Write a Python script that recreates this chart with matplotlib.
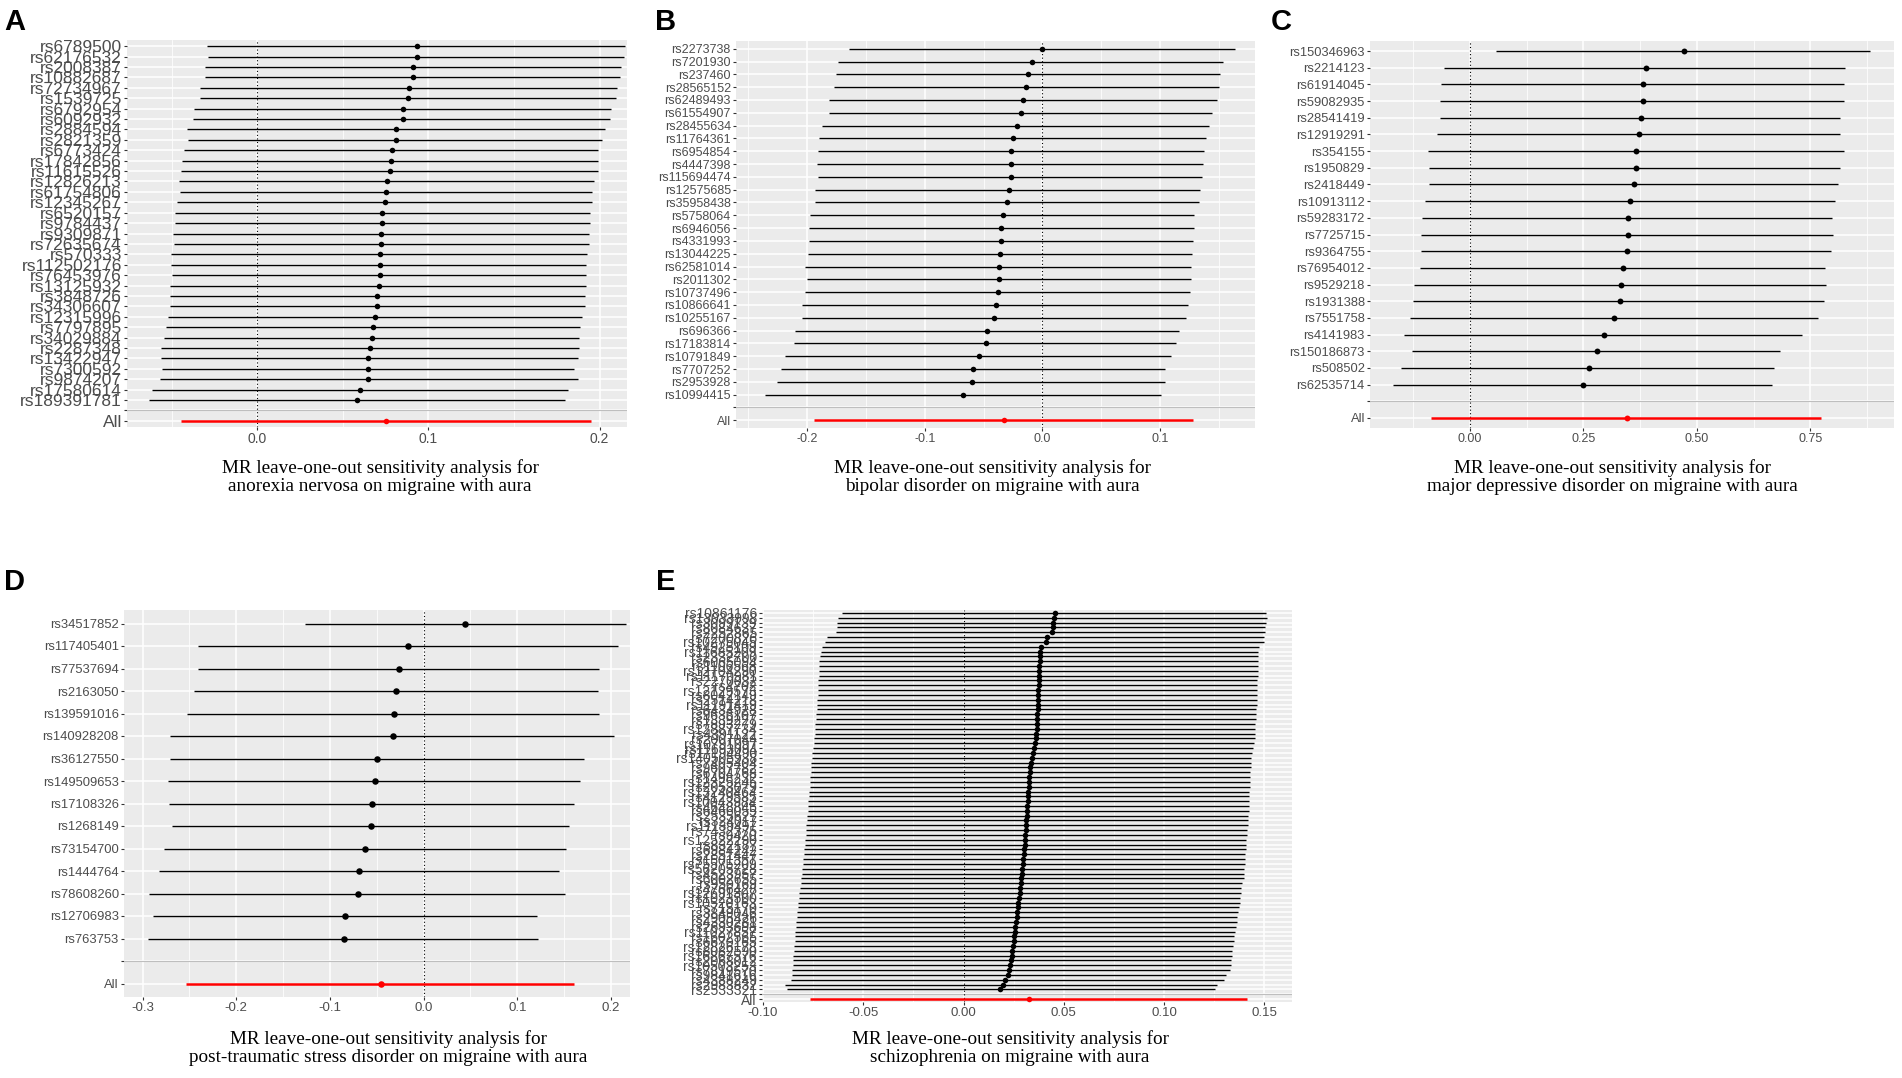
import matplotlib
matplotlib.use('Agg')
from matplotlib import pyplot as plt
import numpy as np

plt.rcParams['font.family'] = ['Liberation Sans', 'DejaVu Sans']

W, H = 1902, 1078

# ---- A: anorexia nervosa
a_snps = ["rs6789500", "rs62176532", "rs2008387", "rs10882687", "rs72734967", "rs1539725",
          "rs6792954", "rs6092932", "rs2884594", "rs2821359", "rs6773424", "rs17842856",
          "rs11615526", "rs12826213", "rs61754806", "rs12345267", "rs6520157", "rs9784437",
          "rs9309871", "rs72635674", "rs570333", "rs112502176", "rs76453976", "rs13125932",
          "rs3848726", "rs34306607", "rs12315996", "rs7797895", "rs34029884", "rs2287348",
          "rs13422947", "rs7300592", "rs9874207", "rs17580614", "rs189391781"]
a_b = [0.0932, 0.0932, 0.0913, 0.0913, 0.0889, 0.0883, 0.0849, 0.0849, 0.0812, 0.0812,
       0.0786, 0.0781, 0.0773, 0.0757, 0.0751, 0.0744, 0.0732, 0.0732, 0.0724, 0.0724,
       0.0717, 0.0717, 0.0717, 0.0709, 0.0701, 0.0701, 0.0689, 0.0676, 0.0670, 0.0660,
       0.0650, 0.0650, 0.0650, 0.0602, 0.0583]
a_lo = [-0.0291, -0.0285, -0.0307, -0.0307, -0.0334, -0.0334, -0.0369, -0.0375, -0.0412, -0.0404,
        -0.0425, -0.0437, -0.0447, -0.0458, -0.0452, -0.0466, -0.0480, -0.0480, -0.0493, -0.0487,
        -0.0501, -0.0501, -0.0495, -0.0507, -0.0507, -0.0507, -0.0520, -0.0534, -0.0542, -0.0561,
        -0.0561, -0.0557, -0.0569, -0.0612, -0.0631]
a_hi = [0.2150, 0.2140, 0.2126, 0.2120, 0.2101, 0.2093, 0.2064, 0.2058, 0.2029, 0.2016,
        0.1990, 0.1990, 0.1990, 0.1967, 0.1955, 0.1955, 0.1942, 0.1942, 0.1936, 0.1936,
        0.1928, 0.1922, 0.1922, 0.1918, 0.1913, 0.1913, 0.1899, 0.1887, 0.1878, 0.1878,
        0.1874, 0.1850, 0.1874, 0.1816, 0.1796]
a_all = (0.0751, -0.0445, 0.1948)

# ---- B: bipolar disorder
b_snps = ["rs2273738", "rs7201930", "rs237460", "rs28565152", "rs62489493", "rs61554907",
          "rs28455634", "rs11764361", "rs6954854", "rs4447398", "rs115694474", "rs12575685",
          "rs35958438", "rs5758064", "rs6946056", "rs4331993", "rs13044225", "rs62581014",
          "rs2011302", "rs10737496", "rs10866641", "rs10255167", "rs696366", "rs17183814",
          "rs10791849", "rs7707252", "rs2953928", "rs10994415"]
b_b = [0.0, -0.0087, -0.0119, -0.0138, -0.0167, -0.0179, -0.0218, -0.0250, -0.0269, -0.0269,
       -0.0269, -0.0288, -0.0298, -0.0337, -0.0349, -0.0349, -0.0359, -0.0369, -0.0369, -0.0381,
       -0.0397, -0.0410, -0.0471, -0.0478, -0.0542, -0.0587, -0.0599, -0.0679]
b_lo = [-0.1644, -0.1737, -0.1753, -0.1776, -0.1817, -0.1817, -0.1878, -0.1897, -0.1907, -0.1917,
        -0.1907, -0.1936, -0.1936, -0.1978, -0.1987, -0.1987, -0.1997, -0.2016, -0.2006, -0.2016,
        -0.2045, -0.2045, -0.2106, -0.2115, -0.2186, -0.2224, -0.2256, -0.2356]
b_hi = [0.1641, 0.1538, 0.1506, 0.1497, 0.1481, 0.1442, 0.1420, 0.1391, 0.1372, 0.1362,
        0.1353, 0.1343, 0.1330, 0.1292, 0.1292, 0.1282, 0.1272, 0.1263, 0.1263, 0.1253,
        0.1240, 0.1221, 0.1160, 0.1138, 0.1093, 0.1042, 0.1042, 0.1006]
b_all = (-0.0330, -0.1946, 0.1282)

# ---- C: major depressive disorder
c_snps = ["rs150346963", "rs2214123", "rs61914045", "rs59082935", "rs28541419", "rs12919291",
          "rs354155", "rs1950829", "rs2418449", "rs10913112", "rs59283172", "rs7725715",
          "rs9364755", "rs76954012", "rs9529218", "rs1931388", "rs7551758", "rs4141983",
          "rs150186873", "rs508502", "rs62535714"]
c_b = [0.4712, 0.3872, 0.3820, 0.3820, 0.3767, 0.3715, 0.3663, 0.3663, 0.3610, 0.3531,
       0.3479, 0.3479, 0.3453, 0.3374, 0.3322, 0.3295, 0.3164, 0.2955, 0.2797, 0.2614, 0.2483]
c_lo = [0.0568, -0.0568, -0.0629, -0.0656, -0.0656, -0.0726, -0.0918, -0.0892, -0.0892, -0.0979,
        -0.1049, -0.1075, -0.1075, -0.1101, -0.1224, -0.1259, -0.1329, -0.1442, -0.1285, -0.1521,
        -0.1696]
c_hi = [0.8811, 0.8269, 0.8234, 0.8234, 0.8156, 0.8156, 0.8234, 0.8156, 0.8103, 0.8042,
        0.7972, 0.8007, 0.7946, 0.7823, 0.7850, 0.7806, 0.7657, 0.7308, 0.6836, 0.6687, 0.6661]
c_all = (0.3453, -0.0848, 0.7727)

# ---- D: post-traumatic stress disorder
d_snps = ["rs34517852", "rs117405401", "rs77537694", "rs2163050", "rs139591016", "rs140928208",
          "rs36127550", "rs149509653", "rs17108326", "rs1268149", "rs73154700", "rs1444764",
          "rs78608260", "rs12706983", "rs763753"]
d_b = [0.0445, -0.0166, -0.0266, -0.0292, -0.0318, -0.0331, -0.0497, -0.0523, -0.0549, -0.0562,
       -0.0623, -0.0689, -0.0702, -0.0841, -0.0854]
d_lo = [-0.1264, -0.2411, -0.2411, -0.2450, -0.2524, -0.2703, -0.2703, -0.2729, -0.2716, -0.2690,
        -0.2768, -0.2829, -0.2929, -0.2890, -0.2943]
d_hi = [0.2158, 0.2071, 0.1874, 0.1861, 0.1874, 0.2027, 0.1709, 0.1670, 0.1609, 0.1556,
        0.1517, 0.1443, 0.1504, 0.1212, 0.1225]
d_all = (-0.0458, -0.2537, 0.1609)

# ---- E: schizophrenia (labels overlap in the source, names are best guesses)
e_snps = ["rs10861176", "rs13033998", "rs3099139", "rs8084637", "rs2252865", "rs7200826",
          "rs10275045", "rs4925109", "rs11685209", "rs2332700", "rs6065094", "rs1106568",
          "rs12704290", "rs11170981", "rs2270032", "rs4702", "rs12129573", "rs8042149",
          "rs2514218", "rs11191419", "rs6434928", "rs9636107", "rs1339227", "rs7893279",
          "rs12887734", "rs4391122", "rs2007044", "rs10791097", "rs11693094", "rs17194490",
          "rs140505938", "rs7405404", "rs9607782", "rs6704768", "rs1498232", "rs12325245",
          "rs2053079", "rs13240464", "rs4129585", "rs10043984", "rs4648845", "rs6466055",
          "rs2535627", "rs324017", "rs11139497", "rs7432375", "rs9420", "rs12522290",
          "rs832187", "rs6984242", "rs2851447", "rs1501357", "rs75575209", "rs56205728",
          "rs4523957", "rs6002655", "rs950169", "rs4766428", "rs12691307", "rs1023500",
          "rs10520163", "rs715170", "rs3849046", "rs2905426", "rs4330281", "rs2693698",
          "rs11027857", "rs1602565", "rs6670165", "rs12826178", "rs8082590", "rs16867576",
          "rs2068012", "rs10503253", "rs7819570", "rs9841616", "rs4388249", "rs2983832",
          "rs2533321"]
e_b = [0.0458, 0.0452, 0.0448, 0.0445, 0.0440, 0.0415, 0.0412, 0.0385, 0.0382, 0.0380,
       0.0379, 0.0378, 0.0377, 0.0376, 0.0375, 0.0374, 0.0373, 0.0372, 0.0371, 0.0370,
       0.0369, 0.0368, 0.0367, 0.0366, 0.0364, 0.0362, 0.0360, 0.0356, 0.0350, 0.0344,
       0.0340, 0.0336, 0.0333, 0.0330, 0.0328, 0.0326, 0.0324, 0.0322, 0.0320, 0.0319,
       0.0318, 0.0316, 0.0315, 0.0314, 0.0313, 0.0311, 0.0309, 0.0307, 0.0305, 0.0302,
       0.0300, 0.0298, 0.0296, 0.0294, 0.0291, 0.0288, 0.0285, 0.0282, 0.0280, 0.0277,
       0.0274, 0.0271, 0.0268, 0.0265, 0.0262, 0.0259, 0.0256, 0.0253, 0.0250, 0.0247,
       0.0244, 0.0241, 0.0238, 0.0234, 0.0228, 0.0220, 0.0208, 0.0195, 0.0183]
e_lo = [-0.0608, -0.0627, -0.0632, -0.0632, -0.0635, -0.0679, -0.0690, -0.0704, -0.0712, -0.0718,
        -0.0720, -0.0721, -0.0722, -0.0723, -0.0724, -0.0725, -0.0726, -0.0727, -0.0729, -0.0731,
        -0.0733, -0.0735, -0.0737, -0.0739, -0.0741, -0.0743, -0.0746, -0.0748, -0.0751, -0.0754,
        -0.0757, -0.0759, -0.0761, -0.0763, -0.0765, -0.0767, -0.0768, -0.0770, -0.0772, -0.0774,
        -0.0776, -0.0778, -0.0780, -0.0782, -0.0784, -0.0786, -0.0788, -0.0790, -0.0793, -0.0796,
        -0.0798, -0.0801, -0.0803, -0.0806, -0.0808, -0.0811, -0.0813, -0.0815, -0.0818, -0.0821,
        -0.0823, -0.0826, -0.0829, -0.0832, -0.0834, -0.0836, -0.0838, -0.0840, -0.0842, -0.0844,
        -0.0846, -0.0848, -0.0850, -0.0852, -0.0854, -0.0856, -0.0860, -0.0889, -0.0880]
e_hi = [0.1508, 0.1515, 0.1508, 0.1505, 0.1502, 0.1500, 0.1498, 0.1475, 0.1470, 0.1469,
        0.1468, 0.1467, 0.1466, 0.1466, 0.1465, 0.1465, 0.1464, 0.1463, 0.1462, 0.1462,
        0.1460, 0.1458, 0.1457, 0.1455, 0.1454, 0.1452, 0.1451, 0.1450, 0.1445, 0.1440,
        0.1436, 0.1434, 0.1432, 0.1430, 0.1429, 0.1428, 0.1427, 0.1426, 0.1425, 0.1424,
        0.1423, 0.1422, 0.1421, 0.1420, 0.1420, 0.1415, 0.1413, 0.1411, 0.1409, 0.1407,
        0.1405, 0.1403, 0.1402, 0.1401, 0.1400, 0.1398, 0.1388, 0.1385, 0.1382, 0.1380,
        0.1377, 0.1375, 0.1370, 0.1366, 0.1362, 0.1358, 0.1354, 0.1350, 0.1347, 0.1345,
        0.1340, 0.1337, 0.1335, 0.1332, 0.1330, 0.1310, 0.1300, 0.1265, 0.1255]
e_all = (0.0325, -0.0768, 0.1412)

caption_head = "MR leave-one-out sensitivity analysis for"
a_caption = "anorexia nervosa on migraine with aura"
b_caption = "bipolar disorder on migraine with aura"
c_caption = "major depressive disorder on migraine with aura"
d_caption = "post-traumatic stress disorder on migraine with aura"
e_caption = "schizophrenia on migraine with aura"


def px_axes(fig, x0, y0, x1, y1):
    return fig.add_axes([x0 / W, 1 - y1 / H, (x1 - x0) / W, (y1 - y0) / H])


def forest(ax, snps, b, lo, hi, overall, xlim, xticks, xlabels, dot=16, ysize=9, xsize=9):
    n = len(snps)
    ypos = np.arange(n + 1, 1, -1)
    ax.set_facecolor('#EBEBEB')
    for s in ax.spines.values():
        s.set_visible(False)
    ax.set_axisbelow(True)

    ax.set_xlim(*xlim)
    ax.set_ylim(-0.6, n + 1.6)
    ax.set_xticks(xticks)
    ax.set_xticklabels(xlabels)
    step = xticks[1] - xticks[0]
    minor = np.arange(xticks[0] - step / 2, xticks[-1] + step, step)
    ax.set_xticks(minor[(minor > xlim[0]) & (minor < xlim[1])], minor=True)
    ax.set_yticks([0, 1] + list(ypos))
    ax.set_yticklabels(['All', ''] + list(snps))
    ax.grid(which='major', color='white', lw=1.1)
    ax.grid(which='minor', axis='x', color='white', lw=0.55)
    ax.tick_params(which='major', length=2.2, width=0.8, color='#333333',
                   labelcolor='#4D4D4D', pad=1.5)
    ax.tick_params(axis='y', labelsize=ysize)
    ax.tick_params(axis='x', labelsize=xsize)
    ax.tick_params(which='minor', length=0)

    ax.axhline(1, color='#BEBEBE', lw=0.8, zorder=1)
    ax.axvline(0, color='black', ls=(0, (1, 2.2)), lw=0.8, zorder=2)
    ax.hlines(ypos, lo, hi, color='black', lw=1.0, zorder=3)
    ax.scatter(b, ypos, s=dot, color='black', zorder=4, linewidths=0)
    ax.hlines(0, overall[1], overall[2], color='red', lw=1.8, zorder=3)
    ax.scatter([overall[0]], [0], s=dot, color='red', zorder=4, linewidths=0)


fig = plt.figure(figsize=(W / 100, H / 100), dpi=100)

ax = px_axes(fig, 127, 40, 627, 427)
forest(ax, a_snps, a_b, a_lo, a_hi, a_all, (-0.076, 0.216),
       [0.0, 0.1, 0.2], ['0.0', '0.1', '0.2'], dot=16, ysize=12.5, xsize=10)

ax = px_axes(fig, 736, 41, 1255, 428)
forest(ax, b_snps, b_b, b_lo, b_hi, b_all, (-0.2606, 0.1807),
       [-0.2, -0.1, 0.0, 0.1], ['-0.2', '-0.1', '0.0', '0.1'], dot=16)

ax = px_axes(fig, 1370, 41, 1894, 428)
forest(ax, c_snps, c_b, c_lo, c_hi, c_all, (-0.220, 0.934),
       [0.0, 0.25, 0.5, 0.75], ['0.00', '0.25', '0.50', '0.75'], dot=18, ysize=9.3)

ax = px_axes(fig, 124, 610, 630, 997)
forest(ax, d_snps, d_b, d_lo, d_hi, d_all, (-0.3198, 0.2203),
       [-0.3, -0.2, -0.1, 0.0, 0.1, 0.2], ['-0.3', '-0.2', '-0.1', '0.0', '0.1', '0.2'],
       dot=22, ysize=9.4, xsize=9.5)

ax = px_axes(fig, 762, 610, 1292, 1002)
forest(ax, e_snps, e_b, e_lo, e_hi, e_all, (-0.1005, 0.1638),
       [-0.10, -0.05, 0.0, 0.05, 0.10, 0.15],
       ['-0.10', '-0.05', '0.00', '0.05', '0.10', '0.15'], dot=16, ysize=10, xsize=9.5)

# captions under each panel
captions = [(380, 477, a_caption), (992, 477, b_caption), (1612, 477, c_caption),
            (388, 1048, d_caption), (1010, 1048, e_caption)]
for cx, cy, txt in captions:
    fig.text(cx / W, 1 - cy / H, caption_head + "\n" + txt, ha='center', va='center',
             family='Liberation Serif', fontsize=13.8, linespacing=1.02, color='black')

# panel letters
for lx, ly, letter in [(4, 8, 'A'), (655, 8, 'B'), (1271, 8, 'C'), (4, 568, 'D'), (656, 568, 'E')]:
    fig.text(lx / W, 1 - ly / H, letter, ha='left', va='top', fontsize=21, fontweight='bold',
             family='Liberation Sans')

fig.savefig('out.png', dpi=100)
